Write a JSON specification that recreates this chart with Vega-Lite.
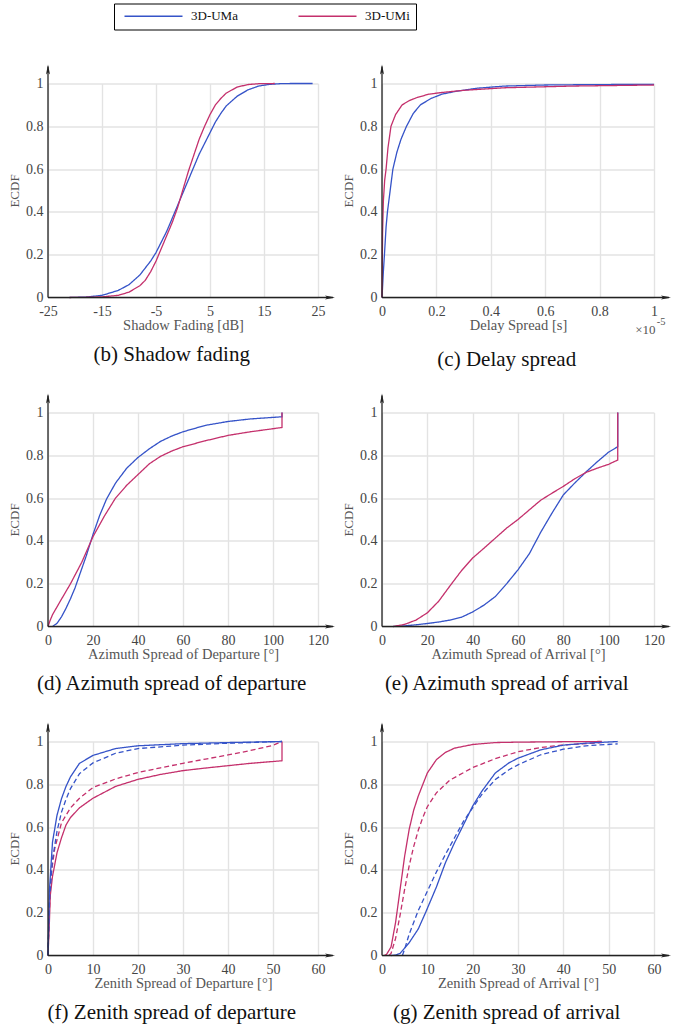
{
"$schema": "https://vega.github.io/schema/vega-lite/v6.json",
"padding": {"left": 8, "top": 2.5, "right": 5, "bottom": 5},
"background": "white",
"bounds": "flush",
"columns": 2,
"spacing": {"row": 115, "column": 64},
"config": {
  "font": "Liberation Serif, Times New Roman, Tinos, DejaVu Serif, serif",
  "view": {"stroke": null},
  "axis": {"domain": false, "ticks": false, "labelFlush": false, "labelOverlap": false, "labelExpr": "datum.value + ''", "labelFont": "Liberation Serif, Times New Roman, Tinos, DejaVu Serif, serif", "labelFontSize": 14, "labelColor": "#444", "labelPadding": 5, "titleFont": "Liberation Serif, Times New Roman, Tinos, DejaVu Serif, serif", "titleFontSize": 14.5, "titleFontWeight": "normal", "titleColor": "#555", "gridColor": "#e3e3e3", "gridWidth": 1.4},
  "axisX": {"titlePadding": 0, "labelPadding": 7},
  "axisY": {"titleFontSize": 13, "titlePadding": 4},
  "title": {"orient": "bottom", "anchor": "middle", "frame": "bounds", "font": "Liberation Serif, Times New Roman, Tinos, DejaVu Serif, serif", "fontSize": 21, "fontWeight": "normal", "color": "#111", "offset": 12},
  "legend": {"orient": "none", "legendX": 66, "legendY": -80, "direction": "horizontal", "symbolType": "M-1,0H28", "symbolSize": 16, "symbolStrokeWidth": 1.6, "labelFont": "Liberation Serif, Times New Roman, Tinos, DejaVu Serif, serif", "labelFontSize": 13, "labelColor": "#111", "labelOffset": 58, "labelExpr": "datum.label + '\u00a0\u00a0'", "columnPadding": 56, "padding": 6, "strokeColor": "#000", "fillColor": "#fff"}
},
"datasets": {"d": [
{"p":"b","s":"3D-UMa","t":"solid","v":-21,"F":0},{"p":"b","s":"3D-UMa","t":"solid","v":-18,"F":0.002},{"p":"b","s":"3D-UMa","t":"solid","v":-15,"F":0.01},{"p":"b","s":"3D-UMa","t":"solid","v":-12,"F":0.033},{"p":"b","s":"3D-UMa","t":"solid","v":-10,"F":0.06},{"p":"b","s":"3D-UMa","t":"solid","v":-8,"F":0.105},{"p":"b","s":"3D-UMa","t":"solid","v":-6,"F":0.17},{"p":"b","s":"3D-UMa","t":"solid","v":-5,"F":0.21},{"p":"b","s":"3D-UMa","t":"solid","v":-4,"F":0.26},{"p":"b","s":"3D-UMa","t":"solid","v":-3,"F":0.31},{"p":"b","s":"3D-UMa","t":"solid","v":-2,"F":0.37},{"p":"b","s":"3D-UMa","t":"solid","v":-1,"F":0.43},{"p":"b","s":"3D-UMa","t":"solid","v":0,"F":0.49},{"p":"b","s":"3D-UMa","t":"solid","v":1,"F":0.55},{"p":"b","s":"3D-UMa","t":"solid","v":2,"F":0.61},{"p":"b","s":"3D-UMa","t":"solid","v":3,"F":0.67},{"p":"b","s":"3D-UMa","t":"solid","v":4,"F":0.72},{"p":"b","s":"3D-UMa","t":"solid","v":5,"F":0.77},{"p":"b","s":"3D-UMa","t":"solid","v":6,"F":0.82},{"p":"b","s":"3D-UMa","t":"solid","v":7,"F":0.86},{"p":"b","s":"3D-UMa","t":"solid","v":8,"F":0.895},{"p":"b","s":"3D-UMa","t":"solid","v":10,"F":0.94},{"p":"b","s":"3D-UMa","t":"solid","v":12,"F":0.97},{"p":"b","s":"3D-UMa","t":"solid","v":14,"F":0.988},{"p":"b","s":"3D-UMa","t":"solid","v":16,"F":0.996},{"p":"b","s":"3D-UMa","t":"solid","v":18,"F":0.999},{"p":"b","s":"3D-UMa","t":"solid","v":20,"F":1},{"p":"b","s":"3D-UMa","t":"solid","v":24,"F":1},
{"p":"b","s":"3D-UMi","t":"solid","v":-21,"F":0},{"p":"b","s":"3D-UMi","t":"solid","v":-18,"F":0.001},{"p":"b","s":"3D-UMi","t":"solid","v":-15,"F":0.003},{"p":"b","s":"3D-UMi","t":"solid","v":-12,"F":0.01},{"p":"b","s":"3D-UMi","t":"solid","v":-10,"F":0.025},{"p":"b","s":"3D-UMi","t":"solid","v":-8,"F":0.055},{"p":"b","s":"3D-UMi","t":"solid","v":-7,"F":0.08},{"p":"b","s":"3D-UMi","t":"solid","v":-6,"F":0.12},{"p":"b","s":"3D-UMi","t":"solid","v":-5,"F":0.17},{"p":"b","s":"3D-UMi","t":"solid","v":-4,"F":0.23},{"p":"b","s":"3D-UMi","t":"solid","v":-3,"F":0.29},{"p":"b","s":"3D-UMi","t":"solid","v":-2,"F":0.35},{"p":"b","s":"3D-UMi","t":"solid","v":-1,"F":0.42},{"p":"b","s":"3D-UMi","t":"solid","v":0,"F":0.505},{"p":"b","s":"3D-UMi","t":"solid","v":1,"F":0.59},{"p":"b","s":"3D-UMi","t":"solid","v":2,"F":0.665},{"p":"b","s":"3D-UMi","t":"solid","v":3,"F":0.74},{"p":"b","s":"3D-UMi","t":"solid","v":4,"F":0.8},{"p":"b","s":"3D-UMi","t":"solid","v":5,"F":0.855},{"p":"b","s":"3D-UMi","t":"solid","v":6,"F":0.9},{"p":"b","s":"3D-UMi","t":"solid","v":7,"F":0.93},{"p":"b","s":"3D-UMi","t":"solid","v":8,"F":0.955},{"p":"b","s":"3D-UMi","t":"solid","v":10,"F":0.983},{"p":"b","s":"3D-UMi","t":"solid","v":12,"F":0.995},{"p":"b","s":"3D-UMi","t":"solid","v":14,"F":0.999},{"p":"b","s":"3D-UMi","t":"solid","v":17,"F":1},
{"p":"c","s":"3D-UMa","t":"solid","v":0,"F":0},{"p":"c","s":"3D-UMa","t":"solid","v":0.005,"F":0.12},{"p":"c","s":"3D-UMa","t":"solid","v":0.009,"F":0.2},{"p":"c","s":"3D-UMa","t":"solid","v":0.015,"F":0.33},{"p":"c","s":"3D-UMa","t":"solid","v":0.02,"F":0.4},{"p":"c","s":"3D-UMa","t":"solid","v":0.03,"F":0.5},{"p":"c","s":"3D-UMa","t":"solid","v":0.04,"F":0.6},{"p":"c","s":"3D-UMa","t":"solid","v":0.055,"F":0.68},{"p":"c","s":"3D-UMa","t":"solid","v":0.07,"F":0.74},{"p":"c","s":"3D-UMa","t":"solid","v":0.09,"F":0.8},{"p":"c","s":"3D-UMa","t":"solid","v":0.115,"F":0.86},{"p":"c","s":"3D-UMa","t":"solid","v":0.141,"F":0.9},{"p":"c","s":"3D-UMa","t":"solid","v":0.18,"F":0.93},{"p":"c","s":"3D-UMa","t":"solid","v":0.22,"F":0.95},{"p":"c","s":"3D-UMa","t":"solid","v":0.27,"F":0.963},{"p":"c","s":"3D-UMa","t":"solid","v":0.35,"F":0.978},{"p":"c","s":"3D-UMa","t":"solid","v":0.45,"F":0.988},{"p":"c","s":"3D-UMa","t":"solid","v":0.6,"F":0.993},{"p":"c","s":"3D-UMa","t":"solid","v":0.8,"F":0.995},{"p":"c","s":"3D-UMa","t":"solid","v":1,"F":0.996},
{"p":"c","s":"3D-UMi","t":"solid","v":0,"F":0},{"p":"c","s":"3D-UMi","t":"solid","v":0.002,"F":0.3},{"p":"c","s":"3D-UMi","t":"solid","v":0.005,"F":0.45},{"p":"c","s":"3D-UMi","t":"solid","v":0.01,"F":0.55},{"p":"c","s":"3D-UMi","t":"solid","v":0.015,"F":0.6},{"p":"c","s":"3D-UMi","t":"solid","v":0.022,"F":0.7},{"p":"c","s":"3D-UMi","t":"solid","v":0.033,"F":0.8},{"p":"c","s":"3D-UMi","t":"solid","v":0.05,"F":0.855},{"p":"c","s":"3D-UMi","t":"solid","v":0.074,"F":0.9},{"p":"c","s":"3D-UMi","t":"solid","v":0.1,"F":0.92},{"p":"c","s":"3D-UMi","t":"solid","v":0.13,"F":0.935},{"p":"c","s":"3D-UMi","t":"solid","v":0.172,"F":0.95},{"p":"c","s":"3D-UMi","t":"solid","v":0.22,"F":0.958},{"p":"c","s":"3D-UMi","t":"solid","v":0.3,"F":0.968},{"p":"c","s":"3D-UMi","t":"solid","v":0.45,"F":0.98},{"p":"c","s":"3D-UMi","t":"solid","v":0.7,"F":0.988},{"p":"c","s":"3D-UMi","t":"solid","v":1,"F":0.993},
{"p":"d","s":"3D-UMa","t":"solid","v":2,"F":0},{"p":"d","s":"3D-UMa","t":"solid","v":4,"F":0.015},{"p":"d","s":"3D-UMa","t":"solid","v":6,"F":0.045},{"p":"d","s":"3D-UMa","t":"solid","v":8,"F":0.085},{"p":"d","s":"3D-UMa","t":"solid","v":10,"F":0.13},{"p":"d","s":"3D-UMa","t":"solid","v":12,"F":0.18},{"p":"d","s":"3D-UMa","t":"solid","v":15,"F":0.27},{"p":"d","s":"3D-UMa","t":"solid","v":17,"F":0.33},{"p":"d","s":"3D-UMa","t":"solid","v":20,"F":0.43},{"p":"d","s":"3D-UMa","t":"solid","v":23,"F":0.52},{"p":"d","s":"3D-UMa","t":"solid","v":26,"F":0.595},{"p":"d","s":"3D-UMa","t":"solid","v":30,"F":0.67},{"p":"d","s":"3D-UMa","t":"solid","v":35,"F":0.74},{"p":"d","s":"3D-UMa","t":"solid","v":40,"F":0.79},{"p":"d","s":"3D-UMa","t":"solid","v":45,"F":0.83},{"p":"d","s":"3D-UMa","t":"solid","v":50,"F":0.865},{"p":"d","s":"3D-UMa","t":"solid","v":55,"F":0.89},{"p":"d","s":"3D-UMa","t":"solid","v":60,"F":0.91},{"p":"d","s":"3D-UMa","t":"solid","v":70,"F":0.94},{"p":"d","s":"3D-UMa","t":"solid","v":80,"F":0.958},{"p":"d","s":"3D-UMa","t":"solid","v":90,"F":0.97},{"p":"d","s":"3D-UMa","t":"solid","v":104,"F":0.98},{"p":"d","s":"3D-UMa","t":"solid","v":104,"F":1},
{"p":"d","s":"3D-UMi","t":"solid","v":0,"F":0},{"p":"d","s":"3D-UMi","t":"solid","v":1,"F":0.03},{"p":"d","s":"3D-UMi","t":"solid","v":2,"F":0.055},{"p":"d","s":"3D-UMi","t":"solid","v":5,"F":0.11},{"p":"d","s":"3D-UMi","t":"solid","v":10,"F":0.2},{"p":"d","s":"3D-UMi","t":"solid","v":15,"F":0.3},{"p":"d","s":"3D-UMi","t":"solid","v":20,"F":0.42},{"p":"d","s":"3D-UMi","t":"solid","v":25,"F":0.515},{"p":"d","s":"3D-UMi","t":"solid","v":30,"F":0.6},{"p":"d","s":"3D-UMi","t":"solid","v":35,"F":0.66},{"p":"d","s":"3D-UMi","t":"solid","v":40,"F":0.71},{"p":"d","s":"3D-UMi","t":"solid","v":45,"F":0.76},{"p":"d","s":"3D-UMi","t":"solid","v":50,"F":0.795},{"p":"d","s":"3D-UMi","t":"solid","v":55,"F":0.82},{"p":"d","s":"3D-UMi","t":"solid","v":60,"F":0.84},{"p":"d","s":"3D-UMi","t":"solid","v":70,"F":0.868},{"p":"d","s":"3D-UMi","t":"solid","v":80,"F":0.893},{"p":"d","s":"3D-UMi","t":"solid","v":90,"F":0.91},{"p":"d","s":"3D-UMi","t":"solid","v":104,"F":0.93},{"p":"d","s":"3D-UMi","t":"solid","v":104,"F":1},
{"p":"e","s":"3D-UMa","t":"solid","v":5,"F":0},{"p":"e","s":"3D-UMa","t":"solid","v":10,"F":0.003},{"p":"e","s":"3D-UMa","t":"solid","v":15,"F":0.008},{"p":"e","s":"3D-UMa","t":"solid","v":20,"F":0.014},{"p":"e","s":"3D-UMa","t":"solid","v":25,"F":0.021},{"p":"e","s":"3D-UMa","t":"solid","v":30,"F":0.03},{"p":"e","s":"3D-UMa","t":"solid","v":35,"F":0.043},{"p":"e","s":"3D-UMa","t":"solid","v":40,"F":0.068},{"p":"e","s":"3D-UMa","t":"solid","v":45,"F":0.1},{"p":"e","s":"3D-UMa","t":"solid","v":50,"F":0.14},{"p":"e","s":"3D-UMa","t":"solid","v":55,"F":0.2},{"p":"e","s":"3D-UMa","t":"solid","v":60,"F":0.265},{"p":"e","s":"3D-UMa","t":"solid","v":65,"F":0.34},{"p":"e","s":"3D-UMa","t":"solid","v":70,"F":0.44},{"p":"e","s":"3D-UMa","t":"solid","v":75,"F":0.53},{"p":"e","s":"3D-UMa","t":"solid","v":80,"F":0.615},{"p":"e","s":"3D-UMa","t":"solid","v":85,"F":0.67},{"p":"e","s":"3D-UMa","t":"solid","v":90,"F":0.722},{"p":"e","s":"3D-UMa","t":"solid","v":95,"F":0.77},{"p":"e","s":"3D-UMa","t":"solid","v":100,"F":0.815},{"p":"e","s":"3D-UMa","t":"solid","v":104,"F":0.84},{"p":"e","s":"3D-UMa","t":"solid","v":104,"F":1},
{"p":"e","s":"3D-UMi","t":"solid","v":5,"F":0},{"p":"e","s":"3D-UMi","t":"solid","v":10,"F":0.01},{"p":"e","s":"3D-UMi","t":"solid","v":15,"F":0.03},{"p":"e","s":"3D-UMi","t":"solid","v":20,"F":0.064},{"p":"e","s":"3D-UMi","t":"solid","v":25,"F":0.118},{"p":"e","s":"3D-UMi","t":"solid","v":30,"F":0.19},{"p":"e","s":"3D-UMi","t":"solid","v":35,"F":0.26},{"p":"e","s":"3D-UMi","t":"solid","v":40,"F":0.32},{"p":"e","s":"3D-UMi","t":"solid","v":45,"F":0.366},{"p":"e","s":"3D-UMi","t":"solid","v":50,"F":0.413},{"p":"e","s":"3D-UMi","t":"solid","v":55,"F":0.46},{"p":"e","s":"3D-UMi","t":"solid","v":60,"F":0.5},{"p":"e","s":"3D-UMi","t":"solid","v":65,"F":0.545},{"p":"e","s":"3D-UMi","t":"solid","v":70,"F":0.59},{"p":"e","s":"3D-UMi","t":"solid","v":75,"F":0.623},{"p":"e","s":"3D-UMi","t":"solid","v":80,"F":0.655},{"p":"e","s":"3D-UMi","t":"solid","v":85,"F":0.69},{"p":"e","s":"3D-UMi","t":"solid","v":90,"F":0.72},{"p":"e","s":"3D-UMi","t":"solid","v":95,"F":0.74},{"p":"e","s":"3D-UMi","t":"solid","v":100,"F":0.758},{"p":"e","s":"3D-UMi","t":"solid","v":104,"F":0.778},{"p":"e","s":"3D-UMi","t":"solid","v":104,"F":1},
{"p":"f","s":"3D-UMi","t":"solid","v":0,"F":0},{"p":"f","s":"3D-UMi","t":"solid","v":0.3,"F":0.15},{"p":"f","s":"3D-UMi","t":"solid","v":0.5,"F":0.28},{"p":"f","s":"3D-UMi","t":"solid","v":1,"F":0.37},{"p":"f","s":"3D-UMi","t":"solid","v":2,"F":0.48},{"p":"f","s":"3D-UMi","t":"solid","v":3,"F":0.55},{"p":"f","s":"3D-UMi","t":"solid","v":4,"F":0.61},{"p":"f","s":"3D-UMi","t":"solid","v":5,"F":0.645},{"p":"f","s":"3D-UMi","t":"solid","v":7,"F":0.69},{"p":"f","s":"3D-UMi","t":"solid","v":10,"F":0.735},{"p":"f","s":"3D-UMi","t":"solid","v":15,"F":0.79},{"p":"f","s":"3D-UMi","t":"solid","v":20,"F":0.823},{"p":"f","s":"3D-UMi","t":"solid","v":25,"F":0.846},{"p":"f","s":"3D-UMi","t":"solid","v":30,"F":0.864},{"p":"f","s":"3D-UMi","t":"solid","v":35,"F":0.876},{"p":"f","s":"3D-UMi","t":"solid","v":40,"F":0.887},{"p":"f","s":"3D-UMi","t":"solid","v":45,"F":0.898},{"p":"f","s":"3D-UMi","t":"solid","v":52,"F":0.91},{"p":"f","s":"3D-UMi","t":"solid","v":52,"F":1},
{"p":"f","s":"3D-UMi","t":"dashed","v":0,"F":0},{"p":"f","s":"3D-UMi","t":"dashed","v":0.3,"F":0.2},{"p":"f","s":"3D-UMi","t":"dashed","v":0.7,"F":0.38},{"p":"f","s":"3D-UMi","t":"dashed","v":1.5,"F":0.5},{"p":"f","s":"3D-UMi","t":"dashed","v":3,"F":0.62},{"p":"f","s":"3D-UMi","t":"dashed","v":5,"F":0.69},{"p":"f","s":"3D-UMi","t":"dashed","v":7,"F":0.735},{"p":"f","s":"3D-UMi","t":"dashed","v":10,"F":0.785},{"p":"f","s":"3D-UMi","t":"dashed","v":15,"F":0.825},{"p":"f","s":"3D-UMi","t":"dashed","v":20,"F":0.855},{"p":"f","s":"3D-UMi","t":"dashed","v":25,"F":0.877},{"p":"f","s":"3D-UMi","t":"dashed","v":30,"F":0.898},{"p":"f","s":"3D-UMi","t":"dashed","v":35,"F":0.918},{"p":"f","s":"3D-UMi","t":"dashed","v":40,"F":0.937},{"p":"f","s":"3D-UMi","t":"dashed","v":45,"F":0.958},{"p":"f","s":"3D-UMi","t":"dashed","v":50,"F":0.982},{"p":"f","s":"3D-UMi","t":"dashed","v":52,"F":1},
{"p":"f","s":"3D-UMa","t":"solid","v":0,"F":0},{"p":"f","s":"3D-UMa","t":"solid","v":0.3,"F":0.3},{"p":"f","s":"3D-UMa","t":"solid","v":1,"F":0.53},{"p":"f","s":"3D-UMa","t":"solid","v":2,"F":0.655},{"p":"f","s":"3D-UMa","t":"solid","v":3,"F":0.733},{"p":"f","s":"3D-UMa","t":"solid","v":4,"F":0.79},{"p":"f","s":"3D-UMa","t":"solid","v":5,"F":0.835},{"p":"f","s":"3D-UMa","t":"solid","v":7,"F":0.898},{"p":"f","s":"3D-UMa","t":"solid","v":10,"F":0.935},{"p":"f","s":"3D-UMa","t":"solid","v":15,"F":0.967},{"p":"f","s":"3D-UMa","t":"solid","v":20,"F":0.98},{"p":"f","s":"3D-UMa","t":"solid","v":30,"F":0.99},{"p":"f","s":"3D-UMa","t":"solid","v":40,"F":0.995},{"p":"f","s":"3D-UMa","t":"solid","v":52,"F":1},
{"p":"f","s":"3D-UMa","t":"dashed","v":0,"F":0},{"p":"f","s":"3D-UMa","t":"dashed","v":0.3,"F":0.25},{"p":"f","s":"3D-UMa","t":"dashed","v":1,"F":0.45},{"p":"f","s":"3D-UMa","t":"dashed","v":2,"F":0.58},{"p":"f","s":"3D-UMa","t":"dashed","v":3,"F":0.67},{"p":"f","s":"3D-UMa","t":"dashed","v":4,"F":0.73},{"p":"f","s":"3D-UMa","t":"dashed","v":5,"F":0.78},{"p":"f","s":"3D-UMa","t":"dashed","v":7,"F":0.85},{"p":"f","s":"3D-UMa","t":"dashed","v":10,"F":0.9},{"p":"f","s":"3D-UMa","t":"dashed","v":15,"F":0.945},{"p":"f","s":"3D-UMa","t":"dashed","v":20,"F":0.967},{"p":"f","s":"3D-UMa","t":"dashed","v":30,"F":0.983},{"p":"f","s":"3D-UMa","t":"dashed","v":40,"F":0.992},{"p":"f","s":"3D-UMa","t":"dashed","v":52,"F":1},
{"p":"g","s":"3D-UMi","t":"solid","v":0.5,"F":0},{"p":"g","s":"3D-UMi","t":"solid","v":1,"F":0.005},{"p":"g","s":"3D-UMi","t":"solid","v":2,"F":0.04},{"p":"g","s":"3D-UMi","t":"solid","v":3,"F":0.155},{"p":"g","s":"3D-UMi","t":"solid","v":4,"F":0.31},{"p":"g","s":"3D-UMi","t":"solid","v":5,"F":0.465},{"p":"g","s":"3D-UMi","t":"solid","v":6,"F":0.59},{"p":"g","s":"3D-UMi","t":"solid","v":7,"F":0.68},{"p":"g","s":"3D-UMi","t":"solid","v":8,"F":0.745},{"p":"g","s":"3D-UMi","t":"solid","v":10,"F":0.853},{"p":"g","s":"3D-UMi","t":"solid","v":12,"F":0.915},{"p":"g","s":"3D-UMi","t":"solid","v":14,"F":0.949},{"p":"g","s":"3D-UMi","t":"solid","v":16,"F":0.969},{"p":"g","s":"3D-UMi","t":"solid","v":20,"F":0.986},{"p":"g","s":"3D-UMi","t":"solid","v":25,"F":0.995},{"p":"g","s":"3D-UMi","t":"solid","v":30,"F":0.997},{"p":"g","s":"3D-UMi","t":"solid","v":40,"F":0.999},{"p":"g","s":"3D-UMi","t":"solid","v":48.5,"F":1},
{"p":"g","s":"3D-UMi","t":"dashed","v":1.5,"F":0},{"p":"g","s":"3D-UMi","t":"dashed","v":2,"F":0.01},{"p":"g","s":"3D-UMi","t":"dashed","v":3,"F":0.08},{"p":"g","s":"3D-UMi","t":"dashed","v":4,"F":0.19},{"p":"g","s":"3D-UMi","t":"dashed","v":5,"F":0.31},{"p":"g","s":"3D-UMi","t":"dashed","v":6,"F":0.42},{"p":"g","s":"3D-UMi","t":"dashed","v":7,"F":0.51},{"p":"g","s":"3D-UMi","t":"dashed","v":8,"F":0.585},{"p":"g","s":"3D-UMi","t":"dashed","v":9,"F":0.645},{"p":"g","s":"3D-UMi","t":"dashed","v":10,"F":0.695},{"p":"g","s":"3D-UMi","t":"dashed","v":12,"F":0.76},{"p":"g","s":"3D-UMi","t":"dashed","v":15,"F":0.82},{"p":"g","s":"3D-UMi","t":"dashed","v":20,"F":0.878},{"p":"g","s":"3D-UMi","t":"dashed","v":25,"F":0.92},{"p":"g","s":"3D-UMi","t":"dashed","v":30,"F":0.952},{"p":"g","s":"3D-UMi","t":"dashed","v":35,"F":0.972},{"p":"g","s":"3D-UMi","t":"dashed","v":40,"F":0.984},{"p":"g","s":"3D-UMi","t":"dashed","v":48.5,"F":0.995},
{"p":"g","s":"3D-UMa","t":"solid","v":2,"F":0},{"p":"g","s":"3D-UMa","t":"solid","v":3,"F":0.002},{"p":"g","s":"3D-UMa","t":"solid","v":4,"F":0.01},{"p":"g","s":"3D-UMa","t":"solid","v":6,"F":0.06},{"p":"g","s":"3D-UMa","t":"solid","v":8,"F":0.124},{"p":"g","s":"3D-UMa","t":"solid","v":9.6,"F":0.2},{"p":"g","s":"3D-UMa","t":"solid","v":12,"F":0.32},{"p":"g","s":"3D-UMa","t":"solid","v":14,"F":0.434},{"p":"g","s":"3D-UMa","t":"solid","v":16,"F":0.527},{"p":"g","s":"3D-UMa","t":"solid","v":18,"F":0.612},{"p":"g","s":"3D-UMa","t":"solid","v":20,"F":0.698},{"p":"g","s":"3D-UMa","t":"solid","v":22,"F":0.767},{"p":"g","s":"3D-UMa","t":"solid","v":25,"F":0.853},{"p":"g","s":"3D-UMa","t":"solid","v":28,"F":0.9},{"p":"g","s":"3D-UMa","t":"solid","v":30,"F":0.922},{"p":"g","s":"3D-UMa","t":"solid","v":35,"F":0.961},{"p":"g","s":"3D-UMa","t":"solid","v":40,"F":0.983},{"p":"g","s":"3D-UMa","t":"solid","v":45,"F":0.992},{"p":"g","s":"3D-UMa","t":"solid","v":52,"F":1},
{"p":"g","s":"3D-UMa","t":"dashed","v":4.5,"F":0},{"p":"g","s":"3D-UMa","t":"dashed","v":5,"F":0.03},{"p":"g","s":"3D-UMa","t":"dashed","v":6,"F":0.1},{"p":"g","s":"3D-UMa","t":"dashed","v":8,"F":0.21},{"p":"g","s":"3D-UMa","t":"dashed","v":10,"F":0.3},{"p":"g","s":"3D-UMa","t":"dashed","v":12,"F":0.39},{"p":"g","s":"3D-UMa","t":"dashed","v":14,"F":0.473},{"p":"g","s":"3D-UMa","t":"dashed","v":16,"F":0.55},{"p":"g","s":"3D-UMa","t":"dashed","v":18,"F":0.628},{"p":"g","s":"3D-UMa","t":"dashed","v":20,"F":0.69},{"p":"g","s":"3D-UMa","t":"dashed","v":22,"F":0.752},{"p":"g","s":"3D-UMa","t":"dashed","v":25,"F":0.822},{"p":"g","s":"3D-UMa","t":"dashed","v":28,"F":0.868},{"p":"g","s":"3D-UMa","t":"dashed","v":30,"F":0.891},{"p":"g","s":"3D-UMa","t":"dashed","v":35,"F":0.938},{"p":"g","s":"3D-UMa","t":"dashed","v":40,"F":0.964},{"p":"g","s":"3D-UMa","t":"dashed","v":45,"F":0.98},{"p":"g","s":"3D-UMa","t":"dashed","v":52,"F":0.989}
]},
"concat": [
{"width": 270, "height": 214, "title": "(b) Shadow fading", "layer": [
 {"data": {"name": "d"}, "transform": [{"filter": "datum.p === 'b'"}], "mark": {"type": "line", "strokeWidth": 1.3},
  "encoding": {"x": {"field": "v", "type": "quantitative", "scale": {"domain": [-25, 25]}, "axis": {"values": [-25, -15, -5, 5, 15, 25], "title": "Shadow Fading [dB]"}},
   "y": {"field": "F", "type": "quantitative", "scale": {"domain": [0, 1]}, "axis": {"values": [0, 0.2, 0.4, 0.6, 0.8, 1], "title": "ECDF"}},
   "color": {"field": "s", "type": "nominal", "scale": {"domain": ["3D-UMa", "3D-UMi"], "range": ["#3553c8", "#c4306c"]}, "title": null},
   "strokeDash": {"field": "t", "type": "nominal", "scale": {"domain": ["solid", "dashed"], "range": [[1, 0], [5, 3]]}, "legend": null},
   "order": [{"field": "F", "type": "quantitative"}, {"field": "v", "type": "quantitative"}]}},
 {"data": {"values": [{}]}, "mark": {"type": "rule", "color": "#222", "strokeWidth": 1.3}, "encoding": {"x": {"datum": -25}, "x2": {"datum": 27.8}, "y": {"datum": 0}}},
 {"data": {"values": [{}]}, "mark": {"type": "rule", "color": "#222", "strokeWidth": 1.3}, "encoding": {"x": {"datum": -25}, "y": {"datum": 0}, "y2": {"datum": 1.08}}},
 {"data": {"values": [{}]}, "mark": {"type": "point", "shape": "M1,0L-1,0.4L-0.55,0L-1,-0.4Z", "size": 100, "filled": true, "color": "#222", "opacity": 1}, "encoding": {"x": {"datum": 27.22}, "y": {"datum": 0}}},
 {"data": {"values": [{}]}, "mark": {"type": "point", "shape": "M0,-1L0.4,1L0,0.55L-0.4,1Z", "size": 100, "filled": true, "color": "#222", "opacity": 1}, "encoding": {"x": {"datum": -25}, "y": {"datum": 1.0654}}}
]},
{"width": 272, "height": 214, "title": "(c) Delay spread", "layer": [
 {"data": {"name": "d"}, "transform": [{"filter": "datum.p === 'c'"}], "mark": {"type": "line", "strokeWidth": 1.3},
  "encoding": {"x": {"field": "v", "type": "quantitative", "scale": {"domain": [0, 1]}, "axis": {"values": [0, 0.2, 0.4, 0.6, 0.8, 1], "title": "Delay Spread [s]"}},
   "y": {"field": "F", "type": "quantitative", "scale": {"domain": [0, 1]}, "axis": {"values": [0, 0.2, 0.4, 0.6, 0.8, 1], "title": "ECDF"}},
   "color": {"field": "s", "type": "nominal", "scale": {"domain": ["3D-UMa", "3D-UMi"], "range": ["#3553c8", "#c4306c"]}, "title": null},
   "strokeDash": {"field": "t", "type": "nominal", "scale": {"domain": ["solid", "dashed"], "range": [[1, 0], [5, 3]]}, "legend": null},
   "order": [{"field": "F", "type": "quantitative"}, {"field": "v", "type": "quantitative"}]}},
 {"data": {"values": [{}]}, "mark": {"type": "rule", "color": "#222", "strokeWidth": 1.3}, "encoding": {"x": {"datum": 0}, "x2": {"datum": 1.055}, "y": {"datum": 0}}},
 {"data": {"values": [{}]}, "mark": {"type": "rule", "color": "#222", "strokeWidth": 1.3}, "encoding": {"x": {"datum": 0}, "y": {"datum": 0}, "y2": {"datum": 1.08}}},
 {"data": {"values": [{}]}, "mark": {"type": "point", "shape": "M1,0L-1,0.4L-0.55,0L-1,-0.4Z", "size": 100, "filled": true, "color": "#222", "opacity": 1}, "encoding": {"x": {"datum": 1.0441}, "y": {"datum": 0}}},
 {"data": {"values": [{}]}, "mark": {"type": "point", "shape": "M0,-1L0.4,1L0,0.55L-0.4,1Z", "size": 100, "filled": true, "color": "#222", "opacity": 1}, "encoding": {"x": {"datum": 0}, "y": {"datum": 1.0654}}},
 {"data": {"values": [{}]}, "mark": {"type": "text", "text": "×10", "align": "right", "baseline": "middle", "font": "Liberation Serif, Times New Roman, Tinos, DejaVu Serif, serif", "fontSize": 13, "color": "#555"}, "encoding": {"x": {"datum": 1.006}, "y": {"datum": -0.15}}},
 {"data": {"values": [{}]}, "mark": {"type": "text", "text": "-5", "align": "left", "baseline": "middle", "font": "Liberation Serif, Times New Roman, Tinos, DejaVu Serif, serif", "fontSize": 10.5, "color": "#555"}, "encoding": {"x": {"datum": 1.01}, "y": {"datum": -0.113}}}
]},
{"width": 270, "height": 214, "title": "(d) Azimuth spread of departure", "layer": [
 {"data": {"name": "d"}, "transform": [{"filter": "datum.p === 'd'"}], "mark": {"type": "line", "strokeWidth": 1.3},
  "encoding": {"x": {"field": "v", "type": "quantitative", "scale": {"domain": [0, 120]}, "axis": {"values": [0, 20, 40, 60, 80, 100, 120], "title": "Azimuth Spread of Departure [°]"}},
   "y": {"field": "F", "type": "quantitative", "scale": {"domain": [0, 1]}, "axis": {"values": [0, 0.2, 0.4, 0.6, 0.8, 1], "title": "ECDF"}},
   "color": {"field": "s", "type": "nominal", "scale": {"domain": ["3D-UMa", "3D-UMi"], "range": ["#3553c8", "#c4306c"]}, "title": null},
   "strokeDash": {"field": "t", "type": "nominal", "scale": {"domain": ["solid", "dashed"], "range": [[1, 0], [5, 3]]}, "legend": null},
   "order": [{"field": "F", "type": "quantitative"}, {"field": "v", "type": "quantitative"}]}},
 {"data": {"values": [{}]}, "mark": {"type": "rule", "color": "#222", "strokeWidth": 1.3}, "encoding": {"x": {"datum": 0}, "x2": {"datum": 126.7}, "y": {"datum": 0}}},
 {"data": {"values": [{}]}, "mark": {"type": "rule", "color": "#222", "strokeWidth": 1.3}, "encoding": {"x": {"datum": 0}, "y": {"datum": 0}, "y2": {"datum": 1.08}}},
 {"data": {"values": [{}]}, "mark": {"type": "point", "shape": "M1,0L-1,0.4L-0.55,0L-1,-0.4Z", "size": 100, "filled": true, "color": "#222", "opacity": 1}, "encoding": {"x": {"datum": 125.33}, "y": {"datum": 0}}},
 {"data": {"values": [{}]}, "mark": {"type": "point", "shape": "M0,-1L0.4,1L0,0.55L-0.4,1Z", "size": 100, "filled": true, "color": "#222", "opacity": 1}, "encoding": {"x": {"datum": 0}, "y": {"datum": 1.0654}}}
]},
{"width": 272, "height": 214, "title": "(e) Azimuth spread of arrival", "layer": [
 {"data": {"name": "d"}, "transform": [{"filter": "datum.p === 'e'"}], "mark": {"type": "line", "strokeWidth": 1.3},
  "encoding": {"x": {"field": "v", "type": "quantitative", "scale": {"domain": [0, 120]}, "axis": {"values": [0, 20, 40, 60, 80, 100, 120], "title": "Azimuth Spread of Arrival [°]"}},
   "y": {"field": "F", "type": "quantitative", "scale": {"domain": [0, 1]}, "axis": {"values": [0, 0.2, 0.4, 0.6, 0.8, 1], "title": "ECDF"}},
   "color": {"field": "s", "type": "nominal", "scale": {"domain": ["3D-UMa", "3D-UMi"], "range": ["#3553c8", "#c4306c"]}, "title": null},
   "strokeDash": {"field": "t", "type": "nominal", "scale": {"domain": ["solid", "dashed"], "range": [[1, 0], [5, 3]]}, "legend": null},
   "order": [{"field": "F", "type": "quantitative"}, {"field": "v", "type": "quantitative"}]}},
 {"data": {"values": [{}]}, "mark": {"type": "rule", "color": "#222", "strokeWidth": 1.3}, "encoding": {"x": {"datum": 0}, "x2": {"datum": 126.6}, "y": {"datum": 0}}},
 {"data": {"values": [{}]}, "mark": {"type": "rule", "color": "#222", "strokeWidth": 1.3}, "encoding": {"x": {"datum": 0}, "y": {"datum": 0}, "y2": {"datum": 1.08}}},
 {"data": {"values": [{}]}, "mark": {"type": "point", "shape": "M1,0L-1,0.4L-0.55,0L-1,-0.4Z", "size": 100, "filled": true, "color": "#222", "opacity": 1}, "encoding": {"x": {"datum": 125.3}, "y": {"datum": 0}}},
 {"data": {"values": [{}]}, "mark": {"type": "point", "shape": "M0,-1L0.4,1L0,0.55L-0.4,1Z", "size": 100, "filled": true, "color": "#222", "opacity": 1}, "encoding": {"x": {"datum": 0}, "y": {"datum": 1.0654}}}
]},
{"width": 270, "height": 214, "title": "(f) Zenith spread of departure", "layer": [
 {"data": {"name": "d"}, "transform": [{"filter": "datum.p === 'f'"}], "mark": {"type": "line", "strokeWidth": 1.3},
  "encoding": {"x": {"field": "v", "type": "quantitative", "scale": {"domain": [0, 60]}, "axis": {"values": [0, 10, 20, 30, 40, 50, 60], "title": "Zenith Spread of Departure [°]"}},
   "y": {"field": "F", "type": "quantitative", "scale": {"domain": [0, 1]}, "axis": {"values": [0, 0.2, 0.4, 0.6, 0.8, 1], "title": "ECDF"}},
   "color": {"field": "s", "type": "nominal", "scale": {"domain": ["3D-UMa", "3D-UMi"], "range": ["#3553c8", "#c4306c"]}, "title": null},
   "strokeDash": {"field": "t", "type": "nominal", "scale": {"domain": ["solid", "dashed"], "range": [[1, 0], [5, 3]]}, "legend": null},
   "order": [{"field": "F", "type": "quantitative"}, {"field": "v", "type": "quantitative"}]}},
 {"data": {"values": [{}]}, "mark": {"type": "rule", "color": "#222", "strokeWidth": 1.3}, "encoding": {"x": {"datum": 0}, "x2": {"datum": 63.3}, "y": {"datum": 0}}},
 {"data": {"values": [{}]}, "mark": {"type": "rule", "color": "#222", "strokeWidth": 1.3}, "encoding": {"x": {"datum": 0}, "y": {"datum": 0}, "y2": {"datum": 1.08}}},
 {"data": {"values": [{}]}, "mark": {"type": "point", "shape": "M1,0L-1,0.4L-0.55,0L-1,-0.4Z", "size": 100, "filled": true, "color": "#222", "opacity": 1}, "encoding": {"x": {"datum": 62.67}, "y": {"datum": 0}}},
 {"data": {"values": [{}]}, "mark": {"type": "point", "shape": "M0,-1L0.4,1L0,0.55L-0.4,1Z", "size": 100, "filled": true, "color": "#222", "opacity": 1}, "encoding": {"x": {"datum": 0}, "y": {"datum": 1.0654}}}
]},
{"width": 272, "height": 214, "title": "(g) Zenith spread of arrival", "layer": [
 {"data": {"name": "d"}, "transform": [{"filter": "datum.p === 'g'"}], "mark": {"type": "line", "strokeWidth": 1.3},
  "encoding": {"x": {"field": "v", "type": "quantitative", "scale": {"domain": [0, 60]}, "axis": {"values": [0, 10, 20, 30, 40, 50, 60], "title": "Zenith Spread of Arrival [°]"}},
   "y": {"field": "F", "type": "quantitative", "scale": {"domain": [0, 1]}, "axis": {"values": [0, 0.2, 0.4, 0.6, 0.8, 1], "title": "ECDF"}},
   "color": {"field": "s", "type": "nominal", "scale": {"domain": ["3D-UMa", "3D-UMi"], "range": ["#3553c8", "#c4306c"]}, "title": null},
   "strokeDash": {"field": "t", "type": "nominal", "scale": {"domain": ["solid", "dashed"], "range": [[1, 0], [5, 3]]}, "legend": null},
   "order": [{"field": "F", "type": "quantitative"}, {"field": "v", "type": "quantitative"}]}},
 {"data": {"values": [{}]}, "mark": {"type": "rule", "color": "#222", "strokeWidth": 1.3}, "encoding": {"x": {"datum": 0}, "x2": {"datum": 63.3}, "y": {"datum": 0}}},
 {"data": {"values": [{}]}, "mark": {"type": "rule", "color": "#222", "strokeWidth": 1.3}, "encoding": {"x": {"datum": 0}, "y": {"datum": 0}, "y2": {"datum": 1.08}}},
 {"data": {"values": [{}]}, "mark": {"type": "point", "shape": "M1,0L-1,0.4L-0.55,0L-1,-0.4Z", "size": 100, "filled": true, "color": "#222", "opacity": 1}, "encoding": {"x": {"datum": 62.65}, "y": {"datum": 0}}},
 {"data": {"values": [{}]}, "mark": {"type": "point", "shape": "M0,-1L0.4,1L0,0.55L-0.4,1Z", "size": 100, "filled": true, "color": "#222", "opacity": 1}, "encoding": {"x": {"datum": 0}, "y": {"datum": 1.0654}}}
]}
]
}
